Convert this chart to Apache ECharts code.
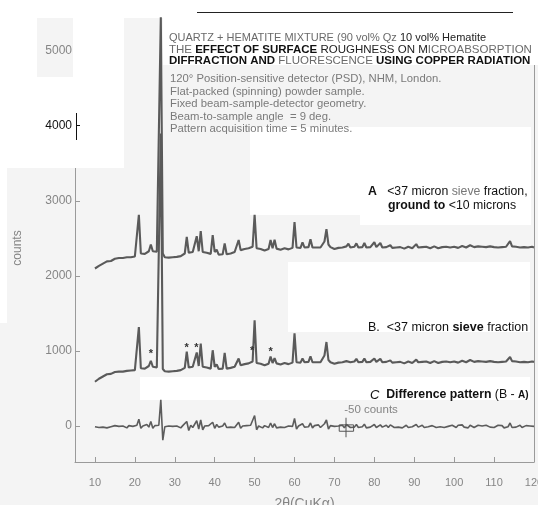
<!DOCTYPE html>
<html><head><meta charset="utf-8">
<script src="https://cdn.jsdelivr.net/npm/echarts@6/dist/echarts.min.js"></script>
<style>html,body{margin:0;padding:0;background:#f4f4f4}#c{width:538px;height:505px}</style>
</head><body><div id="c"></div>
<script>
// 2θ sampling grid: 10° to 120° every 0.5°
const twoThetaStart = 10, twoThetaStep = 0.5;

// Pattern A: <37 micron sieve fraction, ground to <10 microns (counts)
const patternA = [
2100,2115,2135,2150,2165,2180,2195,2205,2200,2220,2230,2220,2240,2245,2240,2255,2250,2260,2250,2265,
2260,2280,2815,2300,2310,2295,2320,2330,2420,2330,2310,2325,2330,5450,2300,2250,2240,2245,2240,2250,
2245,2255,2250,2265,2280,2300,2520,2310,2300,2320,2310,2530,2330,2600,2320,2300,2310,2300,2295,2545,
2320,2350,2285,2275,2290,2435,2290,2295,2300,2310,2320,2330,2480,2345,2350,2360,2355,2370,2350,2390,
2815,2370,2350,2360,2345,2340,2350,2360,2480,2370,2485,2365,2340,2350,2355,2370,2360,2355,2365,2375,
2720,2380,2365,2375,2450,2380,2370,2385,2490,2380,2370,2380,2395,2380,2400,2460,2625,2420,2385,2370,
2360,2370,2375,2360,2380,2370,2395,2430,2380,2370,2390,2435,2380,2370,2385,2440,2380,2370,2385,2395,
2450,2385,2380,2440,2380,2370,2385,2370,2410,2375,2365,2380,2370,2385,2375,2365,2380,2390,2375,2370,
2380,2425,2380,2370,2385,2375,2390,2380,2370,2385,2395,2380,2370,2390,2385,2375,2390,2395,2380,2375,
2390,2385,2375,2395,2400,2390,2380,2395,2410,2390,2385,2400,2395,2385,2390,2400,2385,2380,2395,2390,
2385,2390,2380,2395,2385,2380,2390,2385,2465,2395,2380,2390,2385,2380,2395,2385,2390,2380,2385,2390,
2380];

// Pattern B: <37 micron sieve fraction (counts)
const patternB = [
590,610,630,645,660,675,690,700,695,710,720,715,725,730,725,740,735,745,740,750,
745,760,1320,770,780,765,790,800,870,790,770,780,790,3900,760,730,720,725,720,730,
725,735,730,745,760,775,990,780,770,790,780,980,800,1100,790,770,780,770,765,1010,
790,820,760,750,765,975,765,770,775,785,790,800,900,810,815,825,820,835,815,860,
1410,840,820,830,815,810,820,830,925,840,905,835,810,820,825,840,830,825,835,845,
1235,850,835,845,900,850,840,855,930,850,840,850,865,850,870,940,1120,880,850,840,
830,840,845,830,850,840,865,890,850,840,860,895,850,840,855,900,850,840,855,865,
900,855,850,895,850,840,855,840,875,845,835,850,840,855,845,835,850,860,845,840,
850,885,850,840,855,845,860,850,840,855,865,850,840,860,855,845,860,865,850,845,
860,855,845,865,870,860,850,865,880,860,855,870,865,855,860,870,855,850,865,860,
855,860,850,865,855,850,860,855,920,865,850,860,855,850,865,855,860,850,855,860,
855];

// Pattern C: difference pattern (B - A) (counts)
const patternC = [
-10,5,-20,0,-15,-5,-25,0,-10,-20,5,-15,-5,-20,0,-10,-25,5,-15,-5,
-20,10,90,-30,0,-20,20,-15,60,-30,5,-20,10,350,-190,-10,-25,0,-15,-5,
-20,0,-10,-25,5,-15,60,-60,10,-20,5,70,-40,80,-50,0,-20,5,-15,50,
-30,20,-15,-25,0,40,-20,-5,-15,5,-20,0,50,-30,0,-15,5,-20,10,30,
140,-50,0,-15,-25,5,-10,-20,40,-20,30,-25,0,-15,5,-20,-10,0,-15,-5,
100,-40,0,-20,30,-15,0,-10,40,-25,5,-10,15,-20,-5,30,80,-40,5,-15,
-5,-20,0,-15,10,-25,20,0,-20,5,-15,20,-20,0,-10,25,-25,0,-15,10,
20,-20,0,15,-15,-5,10,-20,15,-10,-20,5,-15,10,-25,0,10,-20,5,-10,
-20,20,-15,0,10,-20,5,-10,-25,5,10,-20,0,-10,15,-20,5,-5,-20,10,
-5,-20,10,-10,15,-15,0,-25,10,-5,-20,5,10,-15,0,-20,10,-5,-15,5,
-20,0,10,-15,5,-25,0,-10,40,-20,5,-15,0,10,-20,-5,5,-15,0,-10,
-5];

// Hematite peaks marked with * on pattern B: [2θ, counts]
const hematiteMarks = [[24.0,960],[33.0,1040],[35.4,1040],[49.4,1000],[54.0,990]];

// 50-count scale bar on the difference pattern
const scaleBarStem = [[72.9,110],[72.9,-150]];
const scaleBarBox = [[71.2,15],[74.8,15],[74.8,-70],[71.2,-70],[71.2,15]];

const xTickValues = [10,20,30,40,50,60,70,80,90,100,110,120];
const yTickValues = [0,1000,2000,3000,4000,5000];

function pairs(vals){ return vals.map((v,i)=>[twoThetaStart+i*twoThetaStep, v]); }

const FONT = "'Liberation Sans', Arial, sans-serif";
const chart = echarts.init(document.getElementById('c'), null, {renderer:'canvas'});

function rect(x,y,w,h,fill){ return {type:'rect', z:1, silent:true, shape:{x,y,width:w,height:h}, style:{fill: fill||'#ffffff'}}; }
function txt(x,y,text,rich,extra){ return Object.assign({type:'text', z:10, silent:true, style:Object.assign({x,y,text,rich,font:'11px '+FONT, fill:'#222', verticalAlign:'middle'}, extra||{})}); }

const F = s => s + 'px ' + FONT;

chart.setOption({
  backgroundColor:'#f4f4f4',
  animation:false,
  grid:{left:75, right:4, top:12, bottom:43, containLabel:false, outerBoundsMode:'none'},
  xAxis:{type:'value', min:5, max:120,
    axisLine:{onZero:false, lineStyle:{color:'#9a9a9a'}},
    axisTick:{inside:true, length:5, customValues:xTickValues, lineStyle:{color:'#9a9a9a'}},
    axisLabel:{customValues:xTickValues, color:'#858585', fontSize:11, fontFamily:FONT, margin:15},
    splitLine:{show:false},
    name:'2θ(CuKα)', nameLocation:'middle', nameGap:35,
    nameTextStyle:{color:'#858585', fontSize:14, fontFamily:FONT}
  },
  yAxis:[
    {type:'value', min:-480, max:5520, position:'left', z:0,
      axisLine:{show:true, onZero:false, lineStyle:{color:'#9a9a9a'}},
      axisTick:{show:true, inside:true, length:5, customValues:yTickValues, lineStyle:{color:'#9a9a9a'}},
      axisLabel:{show:false}, splitLine:{show:false}},
    {type:'value', min:-480, max:5520, position:'left', z:5,
      axisLine:{show:false}, axisTick:{show:false}, splitLine:{show:false},
      axisLabel:{customValues:yTickValues, color:'#858585', fontSize:12, fontFamily:FONT, margin:3,
        formatter: v => v===4000 ? '{k|4000}' : String(v),
        rich:{k:{color:'#111', fontSize:12, fontFamily:FONT}}}},
    {type:'value', min:-480, max:5520, position:'right', z:0,
      axisLine:{show:true, onZero:false, lineStyle:{color:'#9a9a9a'}}, axisTick:{show:false},
      axisLabel:{show:false}, splitLine:{show:false}}
  ],
  series:[
    {name:'A', type:'line', data:pairs(patternA), showSymbol:false, z:3,
      lineStyle:{color:'#5a5a5a', width:2.1}},
    {name:'B', type:'line', data:pairs(patternB), showSymbol:false, z:3,
      lineStyle:{color:'#5a5a5a', width:2.1}},
    {name:'C', type:'line', data:pairs(patternC), showSymbol:false, z:3,
      lineStyle:{color:'#5c5c5c', width:1.6}},
    {name:'marks', type:'scatter', data:hematiteMarks, symbolSize:2, z:4,
      itemStyle:{color:'rgba(0,0,0,0)'},
      label:{show:true, position:'inside', formatter:'*', color:'#333', opacity:1, fontSize:11, fontWeight:'bold', fontFamily:FONT}},
    {name:'barStem', type:'line', data:scaleBarStem, showSymbol:false, z:4, lineStyle:{color:'#555', width:1}},
    {name:'barBox', type:'line', data:scaleBarBox, showSymbol:false, z:4, lineStyle:{color:'#555', width:1}}
  ],
  graphic:[
    rect(0,0,124,168),
    rect(37,10,36,67,'#f4f4f4'),
    rect(0,0,538,18),
    rect(163,18,375,47),
    rect(250,127,281,88),
    rect(360,215,171,10),
    rect(288,262,242,70),
    rect(140,377,390,23),
    rect(0,168,7,155),
    {type:'line', z:2, silent:true, shape:{x1:197,y1:12.5,x2:513,y2:12.5}, style:{stroke:'#222', lineWidth:1}},
    {type:'line', z:6, silent:true, shape:{x1:76.5,y1:113,x2:76.5,y2:140}, style:{stroke:'#111', lineWidth:1}},
    {type:'line', z:6, silent:true, shape:{x1:76.5,y1:125.5,x2:80,y2:125.5}, style:{stroke:'#111', lineWidth:1}},
    // header
    txt(169,38,'{g|QUARTZ + HEMATITE MIXTURE (90 vol% Qz }{k|10 vol% Hematite}',
      {g:{fill:'#6a6a6a', font:F(11)}, k:{fill:'#222', font:F(11)}}),
    txt(169,50,'{g|THE }{b|EFFECT OF SURFACE}{k| ROUGHNESS ON M}{g|ICROABSORPTION}',
      {g:{fill:'#6a6a6a', font:F(11.5)}, b:{fill:'#111', font:'bold '+F(11.5)}, k:{fill:'#222', font:F(11.5)}}),
    txt(169,61,'{b|DIFFRACTION AND}{g| FLUORESCENCE }{b|USING COPPER RADIATION}',
      {g:{fill:'#6a6a6a', font:F(11.5)}, b:{fill:'#111', font:'bold '+F(11.5)}}),
    // info lines
    txt(170,79,'120° Position-sensitive detector (PSD), NHM, London.',null,{fill:'#7a7a7a', font:F(11.3)}),
    txt(170,92,'Flat-packed (spinning) powder sample.',null,{fill:'#7a7a7a', font:F(11.3)}),
    txt(170,104,'Fixed beam-sample-detector geometry.',null,{fill:'#7a7a7a', font:F(11.3)}),
    txt(170,117,'Beam-to-sample angle  = 9 deg.',null,{fill:'#7a7a7a', font:F(11.3)}),
    txt(170,129,'Pattern acquisition time = 5 minutes.',null,{fill:'#7a7a7a', font:F(11.3)}),
    // series labels
    txt(368,192,'{a|A}{n|   <37 micron }{g|sieve}{n| fraction,}',
      {a:{fill:'#111', font:'bold '+F(12.3)}, n:{fill:'#111', font:F(12.3)}, g:{fill:'#777', font:F(12.3)}}),
    txt(388,206,'{b|ground to }{n|<10 microns}',
      {b:{fill:'#111', font:'bold '+F(12.3)}, n:{fill:'#111', font:F(12.3)}}),
    txt(368,328,'{n|B.  <37 micron }{b|sieve}{n| fraction}',
      {b:{fill:'#111', font:'bold '+F(12.5)}, n:{fill:'#111', font:F(12.5)}}),
    txt(370,395,'{i|C}{b|  Difference pattern }{n|(B - }{s|A)}',
      {i:{fill:'#111', font:'italic '+F(13)}, b:{fill:'#111', font:'bold '+F(12.3)}, n:{fill:'#111', font:F(12.3)}, s:{fill:'#111', font:'bold '+F(10)}}),
    txt(371,410,'-50 counts',null,{fill:'#858585', font:F(11.5), align:'center'}),
    {type:'text', z:10, silent:true, rotation:Math.PI/2, x:18, y:248,
      style:{text:'counts', font:F(12), fill:'#858585', align:'center', verticalAlign:'middle'}}
  ]
});
</script></body></html>
